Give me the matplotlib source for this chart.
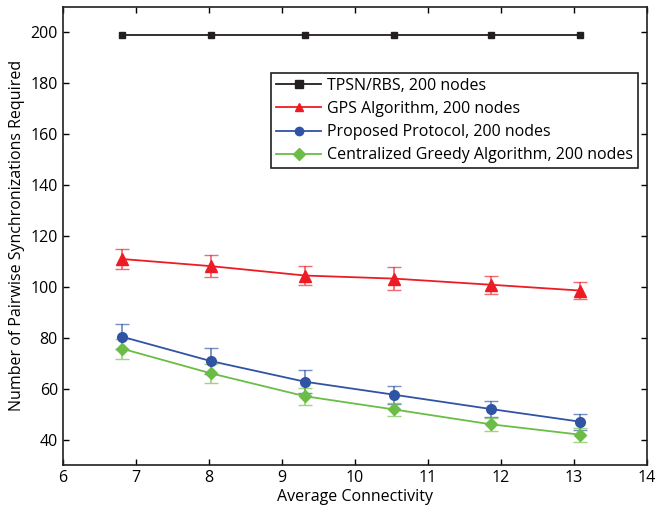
import matplotlib
matplotlib.use('Agg')
import matplotlib.pyplot as plt
from matplotlib.lines import Line2D

plt.rcParams['font.family'] = ['Open Sans', 'DejaVu Sans']

connectivity = [6.81, 8.03, 9.32, 10.54, 11.86, 13.09]

tpsn = [199, 199, 199, 199, 199, 199]
gps = [110.9, 108.1, 104.4, 103.2, 100.8, 98.5]
gps_err = [4.1, 4.3, 3.7, 4.4, 3.5, 3.3]
proposed = [80.4, 70.8, 62.7, 57.6, 52.0, 47.0]
proposed_err = [4.8, 5.2, 4.5, 3.6, 3.2, 3.2]
greedy = [75.7, 66.0, 57.0, 51.8, 46.0, 41.9]
greedy_err = [3.9, 3.7, 3.3, 2.7, 2.6, 2.7]

labels = ['TPSN/RBS, 200 nodes', 'GPS Algorithm, 200 nodes',
          'Proposed Protocol, 200 nodes', 'Centralized Greedy Algorithm, 200 nodes']
colors = ['#231f20', '#ed1c24', '#3153a4', '#6abd45']
markers = ['s', '^', 'o', 'D']

fig = plt.figure(figsize=(6.57, 5.11), dpi=100)
ax = fig.add_axes([0.0955, 0.09, 0.889, 0.897])

ax.plot(connectivity, tpsn, color=colors[0], marker='s', markersize=5,
        linewidth=1.3)
ax.errorbar(connectivity, gps, yerr=gps_err, color=colors[1], marker='^',
            markersize=8, linewidth=1.3, capsize=5, elinewidth=1.3,
            ecolor=(0.93, 0.11, 0.14, 0.65))
ax.errorbar(connectivity, proposed, yerr=proposed_err, color=colors[2], marker='o',
            markersize=7, linewidth=1.3, capsize=5, elinewidth=1.3,
            ecolor=(0.19, 0.33, 0.64, 0.65))
ax.errorbar(connectivity, greedy, yerr=greedy_err, color=colors[3], marker='D',
            markersize=6, linewidth=1.3, capsize=5, elinewidth=1.3,
            ecolor=(0.42, 0.74, 0.27, 0.65))

ax.set_xlim(6, 14)
ax.set_ylim(30, 210)
ax.set_xticks(range(6, 15))
ax.set_yticks(range(40, 201, 20))
ax.tick_params(direction='in', top=True, right=True, labelsize=11.5, length=4, width=1)
for s in ax.spines.values():
    s.set_linewidth(1.2)
    s.set_color('#231f20')

ax.set_xlabel('Average Connectivity', fontsize=11.5, labelpad=2)
ax.set_ylabel('Number of Pairwise Synchronizations Required', fontsize=11.5, labelpad=4)

handles = [Line2D([], [], color=c, marker=m, markersize=6, linewidth=1.3)
           for c, m in zip(colors, markers)]
leg = ax.legend(handles, labels, loc='upper right', bbox_to_anchor=(0.985, 0.855),
                fontsize=11.5, frameon=True, fancybox=False, edgecolor='#231f20',
                framealpha=1, borderpad=0.3, labelspacing=0.45, handlelength=2.8,
                handletextpad=0.4, borderaxespad=0)
leg.get_frame().set_linewidth(1.2)

fig.savefig('out.png', dpi=100)
